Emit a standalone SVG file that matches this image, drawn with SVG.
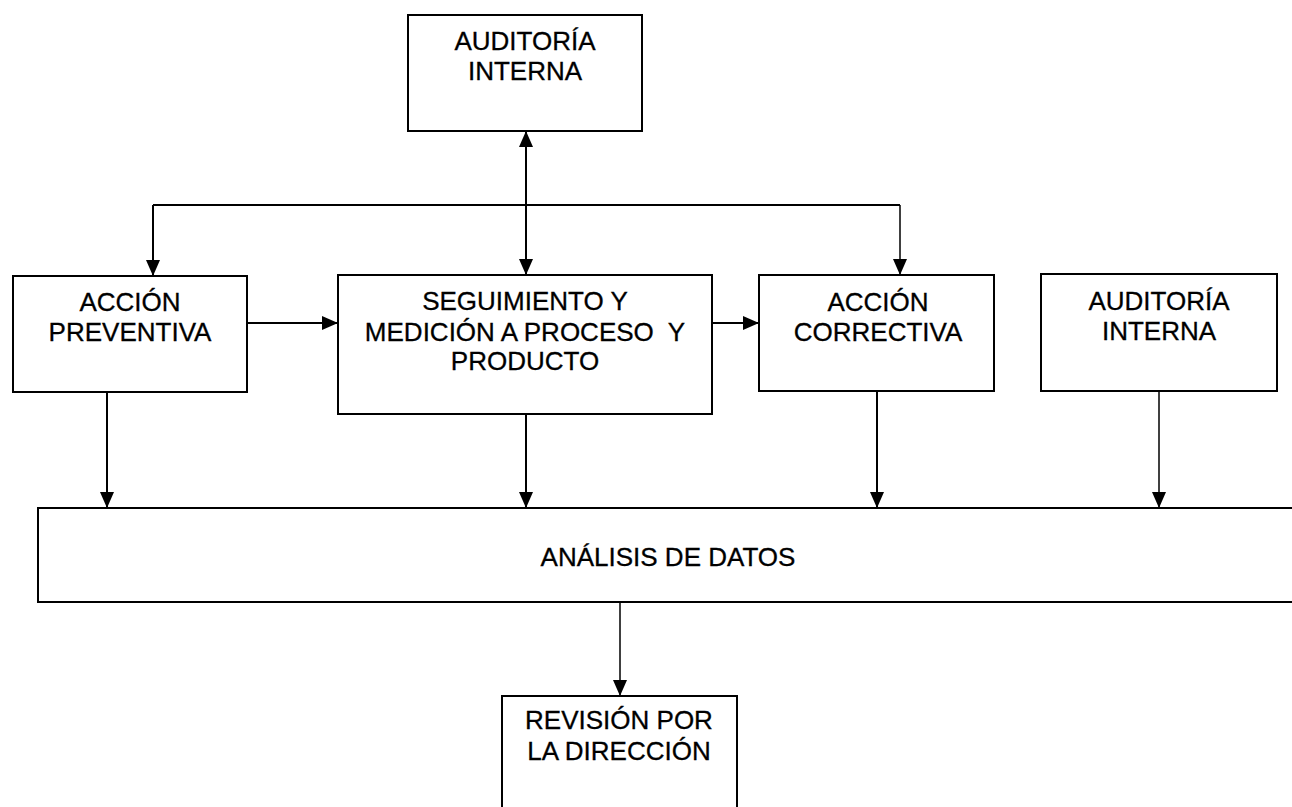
<svg xmlns="http://www.w3.org/2000/svg" width="1292" height="807" viewBox="0 0 1292 807">
<style>
.box{fill:#fff;stroke:#000;stroke-width:2}
.t{font-family:"Liberation Sans",Arial,sans-serif;font-size:26px;fill:#000;stroke:#000;stroke-width:0.3;text-anchor:middle}
.c{fill:none;stroke:#000;stroke-width:2}
.a{marker-end:url(#ah)}
</style>
<defs>
<marker id="ah" markerUnits="userSpaceOnUse" markerWidth="17" markerHeight="15" refX="16" refY="7" orient="auto-start-reverse">
<path d="M0,0 L16,7 L0,14 z" fill="#000"/>
</marker>
</defs>
<rect width="1292" height="807" fill="#fff"/>
<g id="connectors">
<path class="c a" d="M526,275 V131" style="marker-start:url(#ah)"/>
<path class="c" d="M153,205 H900"/>
<path class="c a" d="M153,205 V276"/>
<path class="c a" d="M900,205 V275" style="stroke-width:1.5"/>
<path class="c a" d="M247,323 H338"/>
<path class="c a" d="M712,323 H759"/>
<path class="c a" d="M107,392 V508"/>
<path class="c a" d="M526,414 V508"/>
<path class="c a" d="M877,391 V508"/>
<path class="c a" d="M1159,391 V508" style="stroke-width:1.5"/>
<path class="c a" d="M620,602 V696" style="stroke-width:1.5"/>
</g>
<g id="auditoria-top">
<rect class="box" x="408" y="15" width="234" height="116"/>
<text class="t" x="525" y="50">AUDITORÍA</text>
<text class="t" x="525" y="80">INTERNA</text>
</g>
<g id="accion-preventiva">
<rect class="box" x="13" y="276" width="234" height="116"/>
<text class="t" x="130" y="311">ACCIÓN</text>
<text class="t" x="130" y="341">PREVENTIVA</text>
</g>
<g id="seguimiento">
<rect class="box" x="338" y="275" width="374" height="139"/>
<text class="t" x="525" y="310">SEGUIMIENTO Y</text>
<text class="t" x="525" y="341" xml:space="preserve">MEDICIÓN A PROCESO  Y</text>
<text class="t" x="525" y="370">PRODUCTO</text>
</g>
<g id="accion-correctiva">
<rect class="box" x="759" y="275" width="235" height="116"/>
<text class="t" x="878" y="311">ACCIÓN</text>
<text class="t" x="878" y="341">CORRECTIVA</text>
</g>
<g id="auditoria-right">
<rect class="box" x="1041" y="274" width="236" height="117"/>
<text class="t" x="1159" y="310">AUDITORÍA</text>
<text class="t" x="1159" y="340">INTERNA</text>
</g>
<g id="analisis">
<rect class="box" x="38" y="508" width="1270" height="94"/>
<text class="t" x="668" y="566">ANÁLISIS DE DATOS</text>
</g>
<g id="revision">
<rect class="box" x="502" y="696" width="235" height="125"/>
<text class="t" x="619" y="729">REVISIÓN POR</text>
<text class="t" x="619" y="760">LA DIRECCIÓN</text>
</g>
</svg>
